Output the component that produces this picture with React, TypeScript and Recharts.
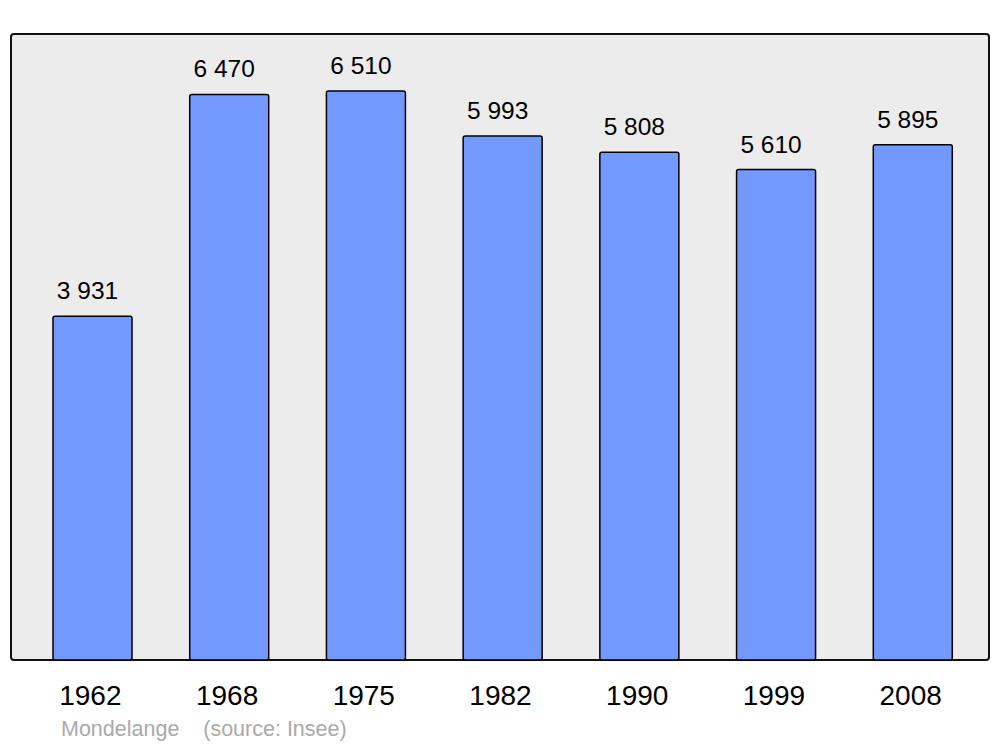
import React from "react";
import { BarChart, Bar, XAxis, YAxis, LabelList } from "recharts";

const years = ["1962", "1968", "1975", "1982", "1990", "1999", "2008"];
const population = [3931, 6470, 6510, 5993, 5808, 5610, 5895];
const commune = "Mondelange";
const source = "(source: Insee)";

const data = years.map((y, i) => ({ year: y, pop: population[i] }));

const fmt = (v: number) => String(v).replace(/\B(?=(\d{3})+(?!\d))/g, " ");

export default function App() {
  const font = "'Liberation Sans', Arial, sans-serif";
  return (
    <div style={{ position: "absolute", left: 0, top: 0, width: 1000, height: 747, background: "#fff", fontFamily: font }}>
      <div
        style={{
          position: "absolute",
          left: 10,
          top: 33,
          width: 976,
          height: 624,
          background: "#ececec",
          border: "2px solid #111",
          borderRadius: 4,
        }}
      />
      <div style={{ position: "absolute", left: 0, top: 0 }}>
        <BarChart
          width={1000}
          height={747}
          data={data}
          margin={{ top: 34, right: 11, bottom: 57, left: 11 }}
          barSize={79}
        >
          <XAxis
            dataKey="year"
            axisLine={false}
            tickLine={false}
            height={30}
            padding={{ left: 13, right: 8 }}
            tick={{ fontSize: 28, fill: "#000", fontFamily: font, dx: -2 }}
            tickMargin={19}
          />
          <YAxis hide domain={[0, 7161]} />
          <Bar dataKey="pop" fill="#7399ff" stroke="#000" strokeWidth={1.5} radius={2} isAnimationActive={false}>
            <LabelList
              dataKey="pop"
              position="top"
              offset={17}
              dx={-5}
              formatter={(v: any) => fmt(Number(v))}
              style={{ fontSize: 24.5, fill: "#000", fontFamily: font }}
            />
          </Bar>
        </BarChart>
      </div>
      <div style={{ position: "absolute", left: 61, top: 717, fontSize: 21.5, color: "#aaaaaa", whiteSpace: "pre" }}>
        {commune + "    " + source}
      </div>
    </div>
  );
}
